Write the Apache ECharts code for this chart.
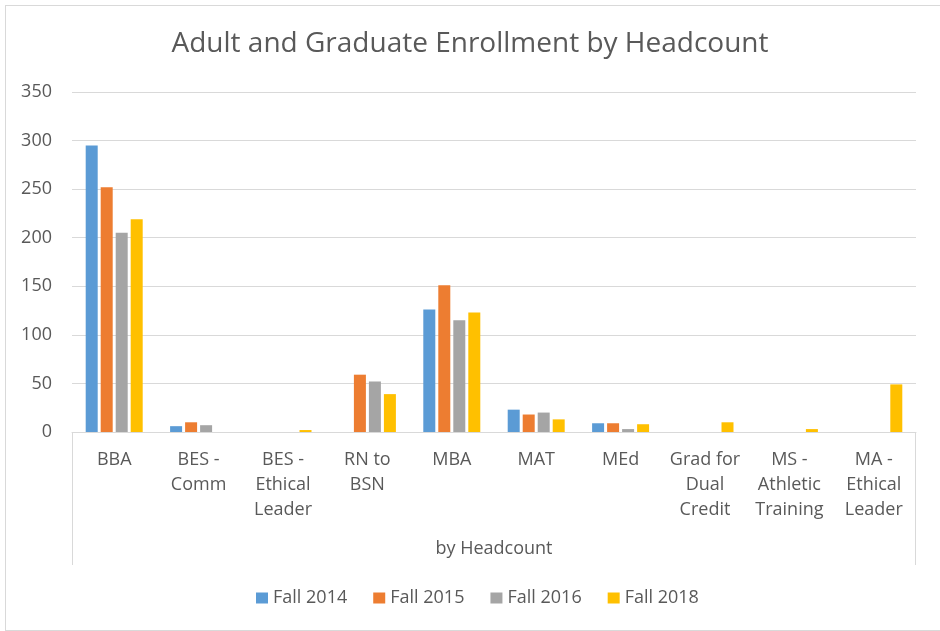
<!DOCTYPE html>
<html>
<head>
<meta charset="utf-8">
<script src="https://cdn.jsdelivr.net/npm/echarts@6/dist/echarts.min.js"></script>
<style>
  html, body { margin: 0; padding: 0; background: #fff; }
  #chart { position: absolute; left: 0; top: 0; width: 940px; height: 631px; }
  .frame { position: absolute; left: 5px; top: 5px; width: 940px; height: 624px; border: 1px solid #d9d9d9; }
</style>
</head>
<body>
<div class="frame"></div>
<div id="chart"></div>
<script>
const categories = ['BBA', 'BES -\nComm', 'BES -\nEthical\nLeader', 'RN to\nBSN', 'MBA', 'MAT', 'MEd',
  'Grad for\nDual\nCredit', 'MS -\nAthletic\nTraining', 'MA -\nEthical\nLeader']
const fall2014 = [295, 6, null, null, 126, 23, 9, null, null, null]
const fall2015 = [252, 10, null, 59, 151, 18, 9, null, null, null]
const fall2016 = [205, 7, null, 52, 115, 20, 3, null, null, null]
const fall2018 = [219, null, 2, 39, 123, 13, 8, 10, 3, 49]
const yTicks = { min: 0, max: 350, interval: 50 }

const gridLeft = 72
const gridRight = 24
const gridTop = 92
const gridBottom = 199
const txt = '#595959'
const font = 'Open Sans'

let chart = echarts.init(document.getElementById('chart'))

function barSeries(name, color, data) {
  return {
    name: name,
    type: 'bar',
    barWidth: 12,
    barGap: '25%',
    itemStyle: { color: color },
    data: data
  }
}

let option = {
  animation: false,
  textStyle: { fontFamily: font },
  title: {
    text: 'Adult and Graduate Enrollment by Headcount',
    left: 'center',
    top: 25,
    textStyle: { fontFamily: font, fontSize: 28, fontWeight: 'normal', color: txt }
  },
  legend: {
    data: ['Fall 2014', 'Fall 2015', 'Fall 2016', 'Fall 2018'],
    left: 251,
    top: 584,
    itemWidth: 12,
    itemHeight: 11,
    itemGap: 26,
    icon: 'rect',
    textStyle: { fontFamily: font, fontSize: 18, color: txt }
  },
  grid: { left: gridLeft, right: gridRight, top: gridTop, bottom: gridBottom, containLabel: false },
  xAxis: {
    type: 'category',
    data: categories,
    name: 'by Headcount',
    nameLocation: 'middle',
    nameGap: 108,
    nameTextStyle: { fontFamily: font, fontSize: 18, color: txt },
    axisLine: { lineStyle: { color: '#d9d9d9', width: 1 } },
    axisTick: { show: false },
    axisLabel: {
      interval: 0,
      margin: 15,
      lineHeight: 25,
      verticalAlign: 'top',
      fontFamily: font,
      fontSize: 18,
      color: txt
    }
  },
  yAxis: {
    type: 'value',
    min: yTicks.min,
    max: yTicks.max,
    interval: yTicks.interval,
    axisLine: { show: false },
    axisTick: { show: false },
    axisLabel: { margin: 20, fontFamily: font, fontSize: 18, color: txt },
    splitLine: { lineStyle: { color: '#d9d9d9', width: 1 } }
  },
  graphic: [
    {
      type: 'line',
      shape: { x1: gridLeft + 0.5, y1: 631 - gridBottom, x2: gridLeft + 0.5, y2: 565 },
      style: { stroke: '#d9d9d9', lineWidth: 1 }
    },
    {
      type: 'line',
      shape: { x1: 940 - gridRight - 0.5, y1: 631 - gridBottom, x2: 940 - gridRight - 0.5, y2: 565 },
      style: { stroke: '#d9d9d9', lineWidth: 1 }
    }
  ],
  series: [
    barSeries('Fall 2014', '#5b9bd5', fall2014),
    barSeries('Fall 2015', '#ed7d31', fall2015),
    barSeries('Fall 2016', '#a5a5a5', fall2016),
    barSeries('Fall 2018', '#ffc000', fall2018)
  ]
}
chart.setOption(option)
</script>
</body>
</html>
